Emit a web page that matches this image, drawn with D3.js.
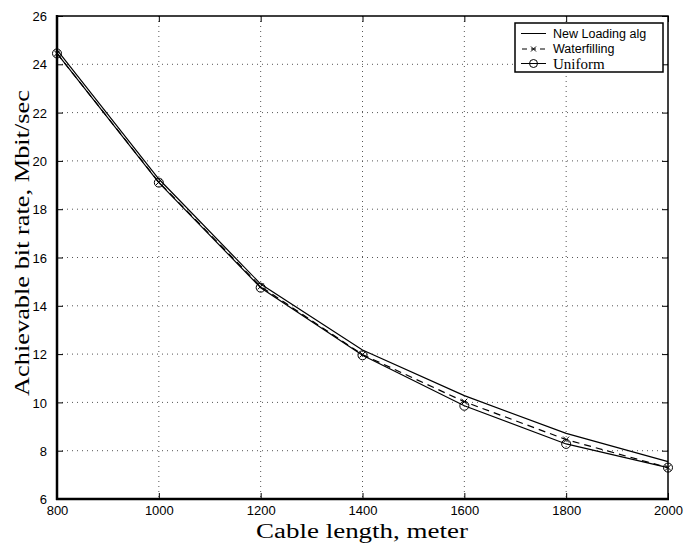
<!DOCTYPE html>
<html><head><meta charset="utf-8">
<script src="https://cdn.jsdelivr.net/npm/d3@7"></script>
<style>body{margin:0;background:#fff}</style>
</head><body>
<svg id="c" width="684" height="546"></svg>
<script>
const lengths = [800, 1000, 1200, 1400, 1600, 1800, 2000];
const newLoading = [24.6, 19.25, 14.9, 12.17, 10.28, 8.72, 7.55];
const waterfilling = [24.45, 19.12, 14.8, 11.98, 10.03, 8.46, 7.3];
const uniform = [24.45, 19.1, 14.75, 11.95, 9.86, 8.28, 7.3];
const xTicks = [800, 1000, 1200, 1400, 1600, 1800, 2000];
const yTicks = [6, 8, 10, 12, 14, 16, 18, 20, 22, 24, 26];
const legendLabels = ["New Loading alg", "Waterfilling", "Uniform"];

const svg = d3.select("#c");
const L = 57, R = 668, T = 16, B = 499;
const x = d3.scaleLinear().domain([800, 2000]).range([L, R]);
const y = d3.scaleLinear().domain([6, 26]).range([B, T]);
const sans = "Liberation Sans, Arial, sans-serif";
const serif = "Liberation Serif, Times New Roman, serif";

// grid
const g = svg.append("g");
g.selectAll(".gx").data(xTicks.slice(1, -1)).enter().append("line")
  .attr("x1", d => x(d)).attr("x2", d => x(d)).attr("y1", T).attr("y2", B)
  .attr("stroke", "#555").attr("stroke-width", 1).attr("stroke-dasharray", "1,4");
g.selectAll(".gy").data(yTicks.slice(1, -1)).enter().append("line")
  .attr("y1", d => y(d)).attr("y2", d => y(d)).attr("x1", L).attr("x2", R)
  .attr("stroke", "#555").attr("stroke-width", 1).attr("stroke-dasharray", "1,4");

// axes with inward ticks
const ax = svg.append("g").attr("transform", `translate(0,${B})`)
  .call(d3.axisBottom(x).tickValues(xTicks).tickSize(-6).tickPadding(9).tickFormat(d3.format("d")));
const axT = svg.append("g").attr("transform", `translate(0,${T})`)
  .call(d3.axisTop(x).tickValues(xTicks).tickSize(-6).tickFormat(""));
const ay = svg.append("g").attr("transform", `translate(${L},0)`)
  .call(d3.axisLeft(y).tickValues(yTicks).tickSize(-6).tickPadding(10).tickFormat(d3.format("d")));
const ayR = svg.append("g").attr("transform", `translate(${R},0)`)
  .call(d3.axisRight(y).tickValues(yTicks).tickSize(-6).tickFormat(""));
[ax, axT, ay, ayR].forEach(a => {
  a.select(".domain").remove();
  a.selectAll("line").attr("stroke", "#000");
  a.selectAll("text").attr("font-family", sans).attr("font-size", 13).attr("fill", "#000");
});
ay.selectAll("text").attr("dy", "0.36em");
ax.selectAll("text").attr("dy", "0.55em");

// frame
svg.append("rect").attr("x", L).attr("y", T).attr("width", R - L).attr("height", B - T)
  .attr("fill", "none").attr("stroke", "#000").attr("stroke-width", 1.5);
svg.append("line").attr("x1", L - 1).attr("x2", R + 1).attr("y1", B).attr("y2", B).attr("stroke", "#000").attr("stroke-width", 2.5);
svg.append("line").attr("x1", L).attr("x2", L).attr("y1", T - 1).attr("y2", B + 1).attr("stroke", "#000").attr("stroke-width", 2.5);

// lines
const mk = vals => d3.line().x((d, i) => x(lengths[i])).y(d => y(d))(vals);
svg.append("path").attr("d", mk(newLoading)).attr("fill", "none").attr("stroke", "#000").attr("stroke-width", 1.2);
svg.append("path").attr("d", mk(waterfilling)).attr("fill", "none").attr("stroke", "#000").attr("stroke-width", 1.2).attr("stroke-dasharray", "7,5");
svg.append("path").attr("d", mk(uniform)).attr("fill", "none").attr("stroke", "#000").attr("stroke-width", 1.2);

// markers
const xs = 3;
svg.selectAll(".xm").data(waterfilling).enter().append("path")
  .attr("d", (d, i) => { const cx = x(lengths[i]), cy = y(d); return `M${cx-xs},${cy-xs}L${cx+xs},${cy+xs}M${cx-xs},${cy+xs}L${cx+xs},${cy-xs}`; })
  .attr("stroke", "#000").attr("stroke-width", 1);
svg.selectAll(".cm").data(uniform).enter().append("circle")
  .attr("cx", (d, i) => x(lengths[i])).attr("cy", d => y(d)).attr("r", 4.5)
  .attr("fill", "none").attr("stroke", "#000").attr("stroke-width", 1);

// axis labels
svg.append("text").attr("x", 362).attr("y", 538).attr("text-anchor", "middle")
  .attr("font-family", serif).attr("font-size", 20.5)
  .attr("textLength", 212).attr("lengthAdjust", "spacingAndGlyphs").text("Cable length, meter");
svg.append("text").attr("transform", "translate(28.5,243) rotate(-90)").attr("text-anchor", "middle")
  .attr("font-family", serif).attr("font-size", 21)
  .attr("textLength", 306).attr("lengthAdjust", "spacingAndGlyphs").text("Achievable bit rate, Mbit/sec");

// legend
const lg = svg.append("g");
lg.append("rect").attr("x", 515).attr("y", 23).attr("width", 148).attr("height", 49)
  .attr("fill", "#fff").attr("stroke", "#000").attr("stroke-width", 1.5);
const ly = [33.5, 49, 63.5];
ly.forEach((yy, i) => {
  const ln = lg.append("line").attr("x1", 521).attr("x2", 546).attr("y1", yy).attr("y2", yy).attr("stroke", "#000").attr("stroke-width", 1);
  if (i === 1) ln.attr("stroke-dasharray", "5,4").attr("x1", 522);
  if (i === 1) {
    const cx = 533.5, cy = yy;
    lg.append("path").attr("d", `M${cx-2.5},${cy-2.5}L${cx+2.5},${cy+2.5}M${cx-2.5},${cy+2.5}L${cx+2.5},${cy-2.5}`).attr("stroke", "#000");
  }
  if (i === 2) lg.append("circle").attr("cx", 533.5).attr("cy", yy).attr("r", 4).attr("fill", "none").attr("stroke", "#000");
  lg.append("text").attr("x", 553).attr("y", yy).attr("dy", "0.35em")
    .attr("font-family", i === 2 ? serif : sans).attr("font-size", i === 2 ? 15 : 12.5).text(legendLabels[i]);
});
</script>
</body></html>
